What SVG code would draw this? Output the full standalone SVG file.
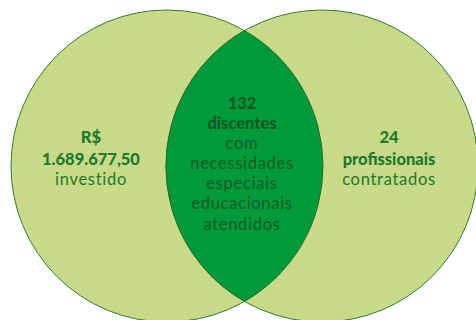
<svg xmlns="http://www.w3.org/2000/svg" width="476" height="320" viewBox="0 0 476 320">
<style>
.c{fill:#c8d987;stroke:#2e7d32;stroke-width:1}
.lens{fill:#009a3b;stroke:#1f6e2a;stroke-width:1}
text{font-family:Lato,"Open Sans",sans-serif;font-size:16.5px;text-anchor:middle;letter-spacing:0.7px}
.o{fill:#1c7a2c}
.i{fill:#0d5a24}
.b{font-weight:900;letter-spacing:0}
</style>
<rect width="476" height="320" fill="#ffffff"/>
<g id="left-circle">
<circle class="c" cx="167" cy="166" r="156"/>
</g>
<g id="right-circle">
<circle class="c" cx="322" cy="166" r="156"/>
</g>
<g id="intersection">
<path class="lens" d="M244.5,30.6 A156,156 0 0 1 244.5,301.4 A156,156 0 0 1 244.5,30.6 Z"/>
</g>
<g id="connectors"></g>
<g id="left-text">
<text class="o b" x="91" y="143">R$</text>
<text class="o b" x="91" y="165">1.689.677,50</text>
<text class="o" x="91" y="185">investido</text>
</g>
<g id="center-text">
<text class="i b" x="242" y="109">132</text>
<text class="i b" x="242" y="129">discentes</text>
<text class="i" x="242" y="149">com</text>
<text class="i" x="242" y="169">necessidades</text>
<text class="i" x="242" y="189">especiais</text>
<text class="i" x="242" y="209">educacionais</text>
<text class="i" x="242" y="230">atendidos</text>
</g>
<g id="right-text">
<text class="o b" x="389" y="143">24</text>
<text class="o b" x="389" y="165">profissionais</text>
<text class="o" x="389" y="185">contratados</text>
</g>
</svg>
